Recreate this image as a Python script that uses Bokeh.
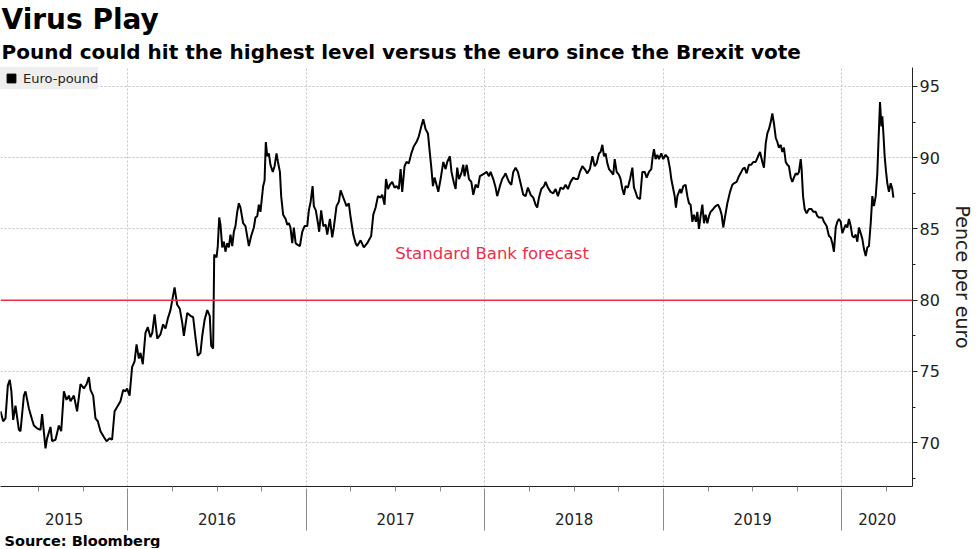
from bokeh.plotting import figure
from bokeh.models import (FixedTicker, Range1d, Span, Label, Legend, LegendItem,
                          CustomJSTickFormatter, LinearAxis, Title)
from bokeh.embed import file_html
from bokeh.resources import INLINE

# ---------------- data (decimal year, pence per euro) ----------------
dates = [
    2015.287, 2015.302, 2015.315, 2015.328, 2015.339, 2015.348, 2015.358, 2015.371, 2015.390, 2015.399,
    2015.418, 2015.427, 2015.446, 2015.464, 2015.474, 2015.492, 2015.511, 2015.520, 2015.539, 2015.548,
    2015.567, 2015.576, 2015.595, 2015.614, 2015.627, 2015.642, 2015.657, 2015.670, 2015.679, 2015.698,
    2015.716, 2015.735, 2015.754, 2015.769, 2015.782, 2015.791, 2015.806, 2015.819, 2015.832, 2015.847,
    2015.866, 2015.881, 2015.899, 2015.912, 2015.926, 2015.940, 2015.959, 2015.974, 2015.987, 2015.996,
    2016.010, 2016.024, 2016.038, 2016.049, 2016.062, 2016.071, 2016.084, 2016.099, 2016.112, 2016.127,
    2016.137, 2016.150, 2016.165, 2016.183, 2016.198, 2016.211, 2016.224, 2016.239, 2016.249, 2016.262,
    2016.276, 2016.291, 2016.305, 2016.314, 2016.333, 2016.351, 2016.366, 2016.379, 2016.392, 2016.407,
    2016.417, 2016.430, 2016.445, 2016.459, 2016.467, 2016.478,
    2016.484, 2016.497, 2016.504, 2016.512, 2016.519, 2016.529, 2016.538, 2016.547, 2016.557, 2016.566,
    2016.575, 2016.585, 2016.594, 2016.603, 2016.613, 2016.622, 2016.631, 2016.646, 2016.659, 2016.678,
    2016.691, 2016.706, 2016.715, 2016.725, 2016.734, 2016.743, 2016.758, 2016.766, 2016.773, 2016.781,
    2016.790, 2016.799, 2016.812, 2016.822, 2016.833, 2016.841, 2016.852, 2016.859, 2016.870, 2016.884,
    2016.893, 2016.902, 2016.911, 2016.921, 2016.930, 2016.940, 2016.949, 2016.964, 2016.977, 2016.990,
    2017.005, 2017.014, 2017.024, 2017.035, 2017.042, 2017.053, 2017.065, 2017.072, 2017.083, 2017.095,
    2017.108, 2017.117, 2017.132, 2017.145, 2017.154, 2017.169, 2017.182, 2017.192,
    2017.210, 2017.225, 2017.238, 2017.248, 2017.263, 2017.276, 2017.285, 2017.304, 2017.322, 2017.341,
    2017.363, 2017.375, 2017.388, 2017.401, 2017.416, 2017.425, 2017.438, 2017.446, 2017.457, 2017.468,
    2017.481, 2017.494, 2017.505, 2017.518, 2017.528, 2017.537, 2017.550, 2017.561, 2017.574, 2017.588,
    2017.602, 2017.617, 2017.630, 2017.644, 2017.655, 2017.668, 2017.681, 2017.692, 2017.700, 2017.709,
    2017.718, 2017.729, 2017.739, 2017.752, 2017.767, 2017.780, 2017.789, 2017.804, 2017.813, 2017.827,
    2017.836, 2017.845, 2017.855, 2017.868, 2017.879, 2017.886, 2017.898, 2017.911, 2017.924, 2017.935,
    2017.948, 2017.961, 2017.972, 2017.985, 2017.998, 2018.010, 2018.023, 2018.032, 2018.047, 2018.060,
    2018.069, 2018.084, 2018.097, 2018.107, 2018.116, 2018.125, 2018.135, 2018.148, 2018.159, 2018.172,
    2018.185, 2018.200, 2018.215, 2018.228, 2018.241, 2018.256, 2018.271, 2018.284, 2018.293, 2018.303,
    2018.316, 2018.331, 2018.340, 2018.353, 2018.368, 2018.383, 2018.396, 2018.409, 2018.424, 2018.439,
    2018.452, 2018.465, 2018.480, 2018.495, 2018.508, 2018.521, 2018.532, 2018.546, 2018.559, 2018.574,
    2018.588, 2018.602, 2018.615, 2018.626, 2018.639, 2018.648, 2018.658, 2018.667, 2018.676, 2018.686,
    2018.695, 2018.708, 2018.719, 2018.727, 2018.738, 2018.751, 2018.760, 2018.770, 2018.779, 2018.788,
    2018.801, 2018.813,
    2018.826, 2018.835, 2018.844, 2018.854, 2018.869, 2018.882, 2018.895, 2018.906, 2018.919, 2018.932,
    2018.939, 2018.947, 2018.956, 2018.966, 2018.975, 2018.988, 2018.999, 2019.012, 2019.025, 2019.037,
    2019.044, 2019.055, 2019.063, 2019.070, 2019.078, 2019.093, 2019.100, 2019.111, 2019.124, 2019.134,
    2019.143, 2019.152, 2019.162, 2019.171, 2019.182, 2019.190, 2019.199, 2019.208, 2019.218, 2019.227,
    2019.236, 2019.246, 2019.255, 2019.264, 2019.279, 2019.292, 2019.306, 2019.317, 2019.326, 2019.335,
    2019.343, 2019.358, 2019.373, 2019.386, 2019.395, 2019.410, 2019.423, 2019.432, 2019.444, 2019.455,
    2019.466, 2019.479, 2019.492, 2019.503, 2019.517, 2019.530, 2019.541, 2019.554, 2019.563, 2019.573,
    2019.582, 2019.591, 2019.601, 2019.610, 2019.619, 2019.629, 2019.638, 2019.647, 2019.657, 2019.666,
    2019.675, 2019.685, 2019.694, 2019.703, 2019.713, 2019.722, 2019.731, 2019.741, 2019.750, 2019.759,
    2019.769, 2019.774, 2019.782, 2019.791, 2019.802, 2019.815, 2019.828, 2019.840, 2019.853, 2019.862,
    2019.871, 2019.881, 2019.890, 2019.899, 2019.914, 2019.927, 2019.937, 2019.946, 2019.955, 2019.965,
    2019.974, 2019.983, 2019.993, 2020.002, 2020.011, 2020.021, 2020.030, 2020.039, 2020.049, 2020.058,
    2020.067, 2020.077, 2020.086, 2020.095, 2020.105, 2020.114, 2020.123, 2020.133, 2020.142, 2020.151,
    2020.161, 2020.170, 2020.179, 2020.189, 2020.198, 2020.204, 2020.213, 2020.221, 2020.226, 2020.232,
    2020.239, 2020.247, 2020.254, 2020.263, 2020.273, 2020.282, 2020.288,
]

values = [
    72.2, 71.5, 71.7, 74.0, 74.4, 73.6, 71.6, 72.6, 70.9, 70.8,
    73.3, 73.6, 72.4, 71.6, 71.2, 71.0, 70.9, 72.0, 69.6, 70.3,
    71.1, 70.1, 70.2, 71.2, 70.8, 73.6, 73.0, 73.3, 72.9, 73.3,
    72.2, 74.1, 73.8, 74.1, 74.6, 73.7, 73.3, 71.7, 71.5, 70.8,
    70.4, 70.1, 70.3, 70.2, 72.2, 72.5, 72.9, 73.7, 73.6, 73.8,
    73.3, 75.3, 75.7, 76.9, 75.9, 76.3, 75.5, 77.7, 78.1, 77.4,
    77.7, 79.0, 77.3, 77.6, 78.3, 78.0, 78.7, 79.3, 80.0, 80.9,
    79.7, 79.4, 78.4, 77.5, 79.1, 78.9, 78.8, 77.4, 76.1, 76.3,
    77.5, 78.6, 79.3, 78.9, 76.8, 76.6,
    83.2, 83.0, 83.8, 85.8, 85.3, 83.7, 84.1, 83.4, 84.0, 83.7,
    84.6, 83.8, 84.8, 85.2, 86.2, 86.8, 86.5, 85.4, 85.2, 83.8,
    84.5, 85.1, 85.8, 85.9, 86.7, 86.2, 88.0, 88.4, 91.1, 90.1,
    90.3, 89.5, 89.0, 89.4, 90.3, 89.7, 89.0, 87.3, 86.0, 85.7,
    85.3, 85.4, 85.1, 84.0, 85.1, 84.0, 83.9, 83.8, 84.8, 85.2,
    85.2, 86.3, 86.9, 88.0, 86.6, 86.3, 85.4, 84.8, 86.3, 85.2,
    85.3, 84.6, 85.7, 84.4, 85.1, 86.6, 86.9, 87.7,
    87.1, 86.6, 86.8, 85.8, 84.6, 84.0, 83.8, 84.2, 83.7, 84.0,
    84.5, 86.0, 86.5, 87.3, 87.2, 87.4, 86.7, 88.5, 87.8, 88.1,
    88.3, 87.9, 88.0, 87.8, 89.2, 87.6, 89.4, 89.7, 89.6, 90.3,
    90.8, 91.1, 91.5, 92.2, 92.7, 92.0, 91.7, 90.3, 89.3, 88.0,
    88.6, 88.1, 87.6, 88.5, 89.7, 89.2, 89.7, 90.1, 89.0, 88.2,
    87.8, 89.3, 88.5, 88.9, 89.5, 88.7, 89.5, 88.5, 88.3, 87.4,
    88.1, 87.9, 88.7, 88.8, 88.9, 89.0, 88.7, 89.0, 88.5, 87.9,
    87.3, 88.0, 88.5, 88.7, 88.9, 88.6, 88.3, 88.1, 89.0, 89.3,
    89.0, 88.2, 87.4, 87.3, 87.9, 87.4, 87.2, 86.7, 86.5, 87.2,
    87.8, 88.0, 88.3, 87.9, 87.6, 87.5, 87.8, 87.3, 87.9, 87.8,
    88.1, 87.8, 88.3, 88.6, 88.5, 88.5, 89.0, 89.4, 89.2, 88.9,
    89.2, 90.1, 89.4, 89.6, 90.3, 90.4, 90.9, 90.1, 90.3, 89.6,
    89.2, 89.0, 88.8, 89.9, 89.0, 88.8, 88.5, 87.8, 87.4, 88.0,
    87.9, 88.5,
    89.3, 87.9, 87.6, 87.2, 87.1, 89.0, 89.0, 88.6, 89.0, 89.2,
    90.0, 90.6, 89.9, 90.2, 89.9, 90.3, 89.9, 90.2, 90.0, 89.2,
    88.5, 87.8, 87.3, 86.5, 87.3, 87.8, 87.5, 88.0, 88.1, 87.3,
    86.8, 86.7, 85.5, 86.0, 85.5, 86.2, 85.0, 85.9, 86.7, 85.4,
    86.0, 85.4, 85.9, 86.2, 86.4, 86.6, 86.7, 86.4, 86.0, 85.1,
    85.7, 86.8, 87.6, 88.1, 88.2, 88.3, 88.7, 88.9, 89.2, 89.3,
    88.9, 89.5, 89.5, 89.7, 89.7, 90.1, 90.4, 89.7, 89.3, 91.0,
    91.7, 92.0, 92.5, 93.1, 92.4, 91.4, 91.1, 90.7, 90.9, 90.4,
    90.7, 89.7, 89.5, 89.4, 88.6, 88.3, 88.6, 88.9, 88.8, 89.0,
    89.9, 89.2, 87.3, 86.4, 86.1, 86.4, 86.4, 86.2, 86.2, 85.9,
    85.8, 85.8, 85.8, 85.5, 85.2, 84.5, 84.4, 84.0, 83.4, 85.1,
    85.5, 85.7, 85.5, 84.7, 85.0, 85.3, 85.1, 85.7, 85.2, 84.5,
    84.4, 84.6, 84.1, 85.1, 84.7, 84.3, 83.6, 83.1, 83.7, 83.8,
    85.4, 87.3, 86.6, 87.3, 88.9, 91.0, 93.9, 92.2, 92.9, 91.7,
    90.1, 89.0, 88.2, 87.6, 88.2, 87.8, 87.2,
]

years = [2015, 2016, 2017, 2018, 2019, 2020]
year_bounds = [2016, 2017, 2018, 2019, 2020]
y_ticks = [70, 75, 80, 85, 90, 95]
forecast_value = 80
forecast_text = "Standard Bank forecast"
series_name = "Euro-pound"
title_text = "Virus Play"
subtitle_text = "Pound could hit the highest level versus the euro since the Brexit vote"
source_text = "Source: Bloomberg"
y_label = "Pence per euro"

# ---------------- layout / style ----------------
x_start, x_end = 2015.287, 2020.395
y_start, y_end = 66.92, 96.33
FONT = "DejaVu Sans"
RED = "#ec2d4c"
TXT = "#222222"
TICK_GREY = "#8a8a8a"

p = figure(width=976, height=548, output_backend="svg", toolbar_location=None, title=None,
           x_range=Range1d(x_start, x_end), y_range=Range1d(y_start, y_end),
           y_axis_location="right", min_border_left=0, min_border_top=67,
           min_border_bottom=61, min_border_right=64)
p.outline_line_color = None
p.background_fill_color = "white"
p.border_fill_color = "white"

# grids
p.xgrid.ticker = FixedTicker(ticks=year_bounds)
p.ygrid.ticker = FixedTicker(ticks=y_ticks)
for g in (p.xgrid[0], p.ygrid[0]):
    g.grid_line_color = "#c4c4c4"
    g.grid_line_dash = "2 2"
    g.grid_line_width = 1

# bottom axis 1: axis line, quarterly ticks, year labels centred in visible part of each year
quarters = [y + q for y in years for q in (0.25, 0.5, 0.75)]
label_x = [(max(y, x_start) + min(y + 1, x_end)) / 2 for y in years]
xa = p.xaxis[0]
xa.ticker = FixedTicker(ticks=label_x, minor_ticks=quarters)
xa.formatter = CustomJSTickFormatter(code="return String(Math.floor(tick))")
xa.major_tick_out = 0
xa.major_tick_in = 0
xa.major_tick_line_color = None
xa.minor_tick_out = 5
xa.minor_tick_in = 0
xa.minor_tick_line_color = TICK_GREY
xa.axis_line_color = "#222222"
xa.major_label_standoff = 21
xa.major_label_text_font = FONT
xa.major_label_text_font_size = "15px"
xa.major_label_text_color = TXT

# bottom axis 2: long year-boundary ticks reaching up to the axis line
xb = LinearAxis(ticker=FixedTicker(ticks=year_bounds),
                formatter=CustomJSTickFormatter(code="return ''"))
xb.axis_line_color = None
xb.major_tick_in = 39
xb.major_tick_out = 3
xb.minor_tick_in = 0
xb.minor_tick_out = 0
xb.major_tick_line_color = TICK_GREY
xb.major_label_standoff = 0
xb.major_label_text_font_size = "1px"
p.add_layout(xb, "below")

# right axis
ya = p.yaxis[0]
ya.ticker = FixedTicker(ticks=y_ticks, minor_ticks=[t - 2.5 for t in y_ticks] + [y_ticks[-1] + 2.5])
ya.major_tick_out = 5
ya.major_tick_in = 0
ya.minor_tick_out = 3
ya.minor_tick_in = 0
ya.axis_line_color = "#222222"
ya.major_tick_line_color = "#222222"
ya.minor_tick_line_color = "#222222"
ya.major_label_standoff = 2
ya.major_label_text_font = FONT
ya.major_label_text_font_size = "16px"
ya.major_label_text_color = TXT
ya.axis_label = y_label
ya.axis_label_text_font = FONT
ya.axis_label_text_font_size = "19px"
ya.axis_label_text_font_style = "normal"
ya.axis_label_text_color = TXT
ya.axis_label_standoff = 9

# forecast line and label
p.add_layout(Span(location=forecast_value, dimension="width", line_color=RED, line_width=1.5))
p.add_layout(Label(x=2018.04, y=forecast_value + 3.3, text=forecast_text, text_align="center",
                   text_baseline="middle", text_font=FONT, text_font_size="16.5px", text_color=RED))

# series
p.line(dates, values, line_color="black", line_width=2)
key = p.scatter(dates, values, marker="square", color="black", visible=False)

legend = Legend(items=[LegendItem(label=series_name, renderers=[key])], location="top_left",
                click_policy="none")
legend.label_text_font = FONT
legend.label_text_font_size = "13px"
legend.label_text_color = TXT
legend.background_fill_color = "#eeeeee"
legend.background_fill_alpha = 1
legend.border_line_color = None
legend.margin = 0
legend.padding = 5
legend.spacing = 0
legend.glyph_width = 22
legend.glyph_height = 22
legend.label_standoff = 1
legend.label_height = 20
p.add_layout(legend)

# titles (first added "above" sits closest to the frame) and source
p.add_layout(Title(text=subtitle_text, align="left", offset=1, standoff=7,
                   text_font=FONT, text_font_style="bold", text_font_size="20px",
                   text_color="black"), "above")
p.add_layout(Title(text=title_text, align="left", offset=1, standoff=-2,
                   text_font=FONT, text_font_style="bold", text_font_size="28px",
                   text_color="black"), "above")
p.add_layout(Title(text=source_text, align="left", offset=4, standoff=0,
                   text_font=FONT, text_font_style="bold", text_font_size="14.5px",
                   text_color="black"), "below")

open("out.html", "w").write(file_html(p, INLINE))
